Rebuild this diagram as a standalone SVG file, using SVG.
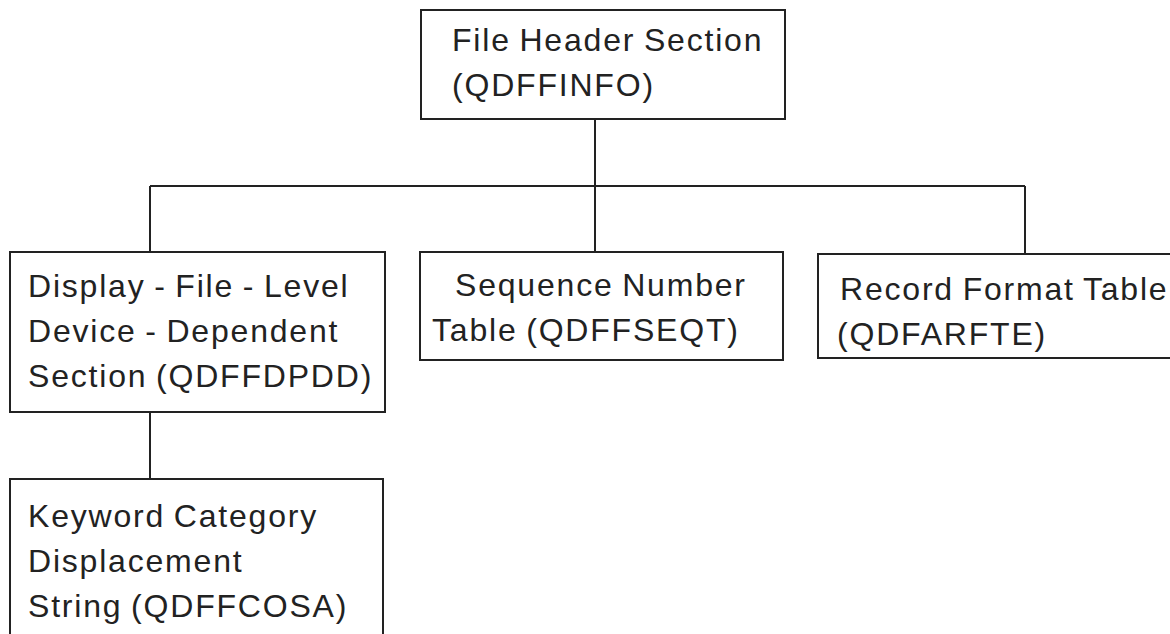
<svg xmlns="http://www.w3.org/2000/svg" width="1170" height="634" viewBox="0 0 1170 634">
<style>
.box{fill:#fff;stroke:#222;stroke-width:2}
.t{font-family:"Liberation Sans",Arial,sans-serif;font-size:32px;fill:#222;letter-spacing:1.8px;word-spacing:-2px}
.c{fill:none;stroke:#222;stroke-width:2}
</style>
<rect width="1170" height="634" fill="#fff"/>
<g id="connectors">
<path class="c" d="M595 119V186M150 186H1025M150 186V252M595 186V252M1025 186V254M150 412V479"/>
</g>
<g id="n-header">
<rect class="box" x="421" y="10" width="364" height="109"/>
<text class="t" x="452" y="51">File Header Section</text>
<text class="t" x="452" y="96">(QDFFINFO)</text>
</g>
<g id="n-display">
<rect class="box" x="10" y="252" width="375" height="160"/>
<text class="t" x="28" y="297">Display - File - Level</text>
<text class="t" x="28" y="342">Device - Dependent</text>
<text class="t" x="28" y="387">Section (QDFFDPDD)</text>
</g>
<g id="n-seq">
<rect class="box" x="420" y="252" width="363" height="108"/>
<text class="t" x="455" y="296">Sequence Number</text>
<text class="t" x="432" y="341">Table (QDFFSEQT)</text>
</g>
<g id="n-rec">
<rect class="box" x="818" y="254" width="370" height="104"/>
<text class="t" x="840" y="300">Record Format Table</text>
<text class="t" x="837" y="345">(QDFARFTE)</text>
</g>
<g id="n-keyword">
<rect class="box" x="10" y="479" width="373" height="170"/>
<text class="t" x="28" y="527">Keyword Category</text>
<text class="t" x="28" y="572">Displacement</text>
<text class="t" x="28" y="617">String (QDFFCOSA)</text>
</g>
</svg>
